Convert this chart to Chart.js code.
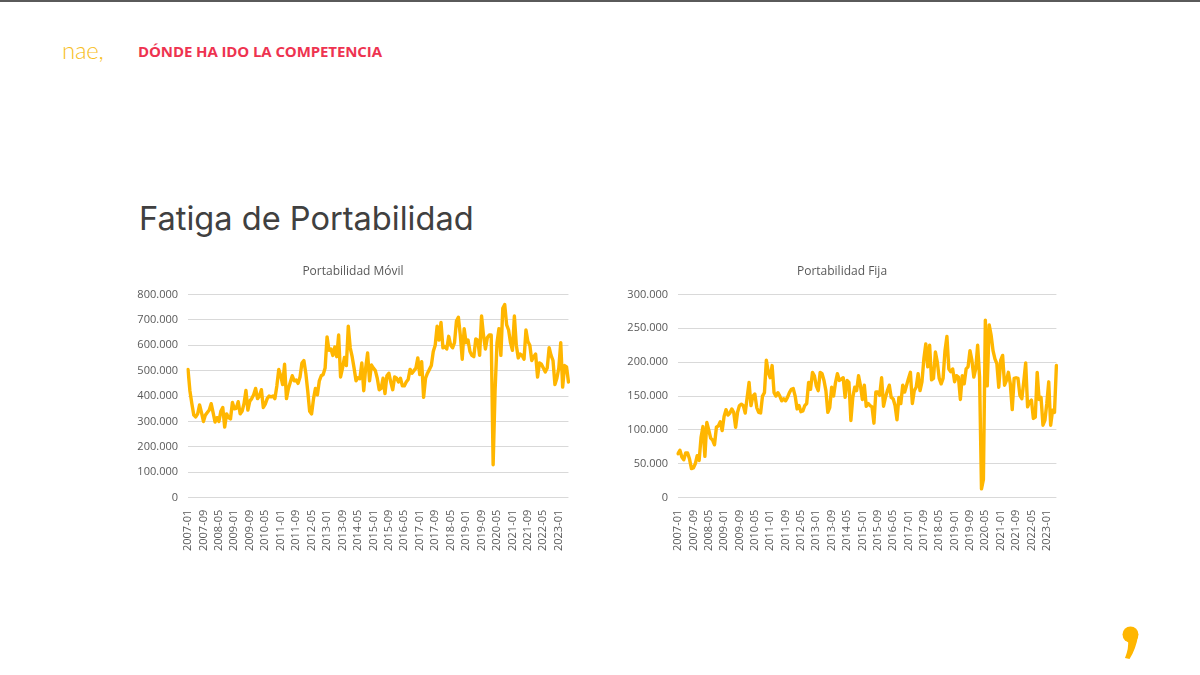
<!DOCTYPE html>
<html lang="es">
<head>
<meta charset="utf-8">
<script src="https://cdn.jsdelivr.net/npm/chart.js@4"></script>
<style>
    body { margin: 0; background: #fff; }
    .slide { position: relative; width: 1200px; height: 675px; overflow: hidden; border-top: 2px solid #5a5a5a; box-sizing: border-box; font-family: 'Open Sans', sans-serif; }
    .logo { position: absolute; left: 62px; top: 33px; font-family: 'Lato', sans-serif; font-weight: 300; font-size: 24px; color: #F7BE1E; letter-spacing: -0.3px; }
    .seccion { position: absolute; left: 138px; top: 39px; font-family: 'Open Sans', sans-serif; font-weight: 700; font-size: 15px; color: #EE3350; letter-spacing: -0.1px; }
    .titulo { position: absolute; left: 139px; top: 196px; font-family: 'Inter', sans-serif; font-size: 32.6px; color: #404040; }
    .grafico { position: absolute; top: 258px; }
    .coma { position: absolute; left: 1115px; top: 622px; }
</style>
</head>
<body>
<div class="slide">
    <div class="logo">nae,</div>
    <div class="seccion">DÓNDE HA IDO LA COMPETENCIA</div>
    <div class="titulo">Fatiga de Portabilidad</div>
    <canvas id="chartMovil" class="grafico" style="left:130px" width="446" height="295"></canvas>
    <canvas id="chartFija" class="grafico" style="left:620px" width="444" height="295"></canvas>
    <svg class="coma" width="30" height="40" viewBox="0 0 30 40">
        <circle cx="15.5" cy="10.5" r="8" fill="#FFB600"/>
        <path d="M8 12 Q16 15 23 12 Q21 25 14.5 35 L10 34 Q14 24 13 16 Z" fill="#FFB600"/>
    </svg>
</div>
<script>
// ── Meses 2007-01 .. 2023-06 ──
const meses = [];
for (let a = 2007; a <= 2023; a++) {
    for (let m = 1; m <= 12; m++) {
        if (a === 2023 && m > 6) break;
        meses.push(a + '-' + String(m).padStart(2, '0'));
    }
}

// etiquetas visibles del eje X
const etiquetasX = ['2007-01','2007-09','2008-05','2009-01','2009-09','2010-05','2011-01','2011-09','2012-05',
    '2013-01','2013-09','2014-05','2015-01','2015-09','2016-05','2017-01','2017-09','2018-05','2019-01',
    '2019-09','2020-05','2021-01','2021-09','2022-05','2023-01'];

// ── Portabilidad móvil (miles) ──
const movilMiles = [
    505,420,370,325,318,330,365,335,300,325,335,345,
    370,335,298,315,300,340,355,278,330,315,310,375,
    350,352,378,330,340,370,422,345,380,390,405,430,
    390,400,425,355,368,390,400,397,400,390,440,505,
    480,445,525,390,430,455,480,460,463,450,475,530,
    540,490,420,340,330,390,430,405,460,480,485,510,
    633,580,585,560,593,555,640,475,510,552,520,675,
    590,555,510,460,472,468,530,421,510,570,460,522,
    510,500,470,425,430,470,410,480,490,455,425,475,
    470,455,470,440,440,455,465,505,490,500,510,550,
    485,535,395,470,490,505,520,575,600,675,620,690,
    590,595,585,635,600,590,610,695,710,640,545,665,
    610,620,575,560,555,625,620,560,715,640,585,630,
    640,640,130,420,610,665,560,745,760,680,660,610,
    580,715,600,550,565,560,545,660,615,600,540,555,
    565,475,530,525,510,495,510,590,560,540,445,470,
    510,610,435,520,515,455
];

// ── Portabilidad fija (miles) ──
const fijaMiles = [
    65,70,60,56,66,66,57,43,44,50,62,55,
    89,105,61,111,100,88,85,78,104,106,112,99,
    120,130,122,125,131,126,104,126,136,138,136,125,
    148,170,136,150,153,133,126,125,150,155,203,185,
    177,195,155,150,155,150,143,146,143,148,155,160,
    161,150,131,136,127,128,136,139,170,160,185,180,
    165,158,185,183,173,158,126,133,163,150,170,183,
    173,175,177,148,173,170,114,148,163,158,180,165,
    145,166,135,139,136,134,110,156,156,151,177,135,
    148,158,166,148,146,136,115,148,139,166,156,166,
    176,185,139,158,163,183,158,171,205,227,193,225,
    174,176,215,200,176,168,176,217,238,190,186,190,
    171,180,178,145,180,168,190,193,217,203,178,190,
    225,178,13,27,262,165,255,240,217,205,198,163,
    203,210,166,173,185,168,130,176,177,176,151,146,
    171,199,134,141,144,117,119,185,145,148,107,114,
    139,171,107,129,126,195
];

const miles = v => (v === 0 ? '0' : String(v) + '.000');

function crearGrafico(id, titulo, datos, maxY, paso) {
    new Chart(document.getElementById(id), {
        type: 'line',
        data: {
            labels: meses,
            datasets: [{
                data: datos,
                borderColor: '#FFB600',
                borderWidth: 3.4,
                borderJoinStyle: 'round',
                borderCapStyle: 'round',
                pointRadius: 0,
                tension: 0,
                fill: false
            }]
        },
        options: {
            responsive: false,
            animation: false,
            layout: { padding: { left: 0, right: 0, top: 0, bottom: 0 } },
            plugins: {
                legend: { display: false },
                tooltip: { enabled: false },
                title: {
                    display: true, text: titulo, color: '#595959',
                    font: { family: 'Open Sans', size: 12, weight: 'normal' },
                    padding: { top: 4, bottom: 16 }
                }
            },
            scales: {
                x: {
                    grid: { display: false },
                    border: { display: false },
                    ticks: {
                        autoSkip: false, maxRotation: 90, minRotation: 90,
                        color: '#595959', font: { family: 'Open Sans', size: 11 }, padding: 4,
                        callback: (v, i) => etiquetasX.includes(meses[i]) ? meses[i] : null
                    }
                },
                y: {
                    min: 0, max: maxY,
                    grid: { color: '#d9d9d9', drawTicks: false },
                    border: { display: false },
                    ticks: {
                        stepSize: paso, padding: 10, color: '#595959',
                        font: { family: 'Open Sans', size: 11 },
                        callback: v => miles(v)
                    },
                    afterFit: s => { s.width = 58; }
                }
            }
        }
    });
}

crearGrafico('chartMovil', 'Portabilidad Móvil', movilMiles, 800, 100);
crearGrafico('chartFija', 'Portabilidad Fija', fijaMiles, 300, 50);
</script>
</body>
</html>
